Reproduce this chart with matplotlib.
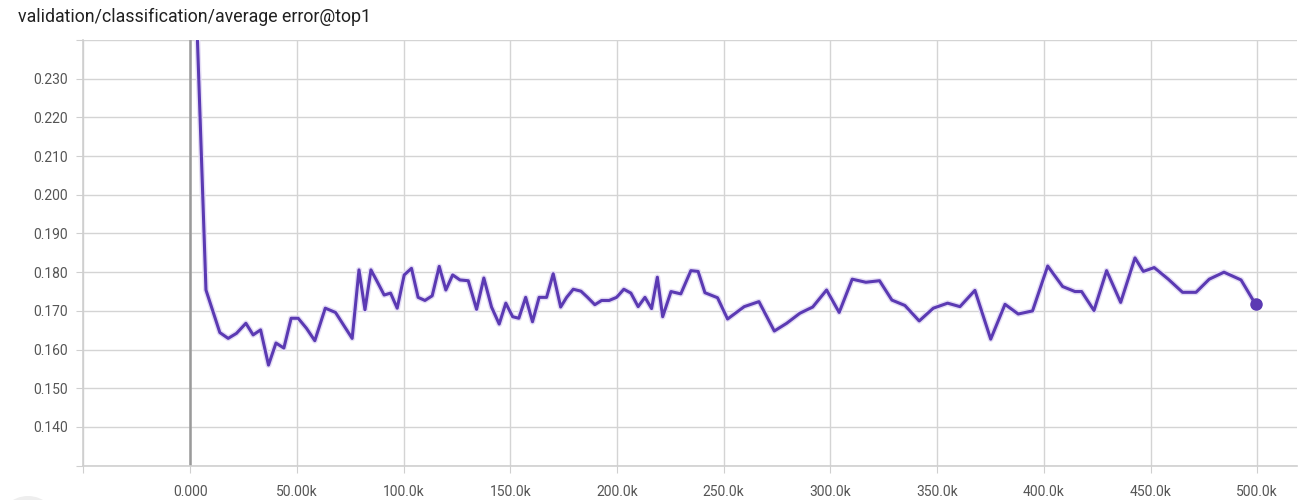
import numpy as np
import matplotlib
matplotlib.use('Agg')
import matplotlib.pyplot as plt
from matplotlib.patches import Circle

# data (step, smoothed error)
steps = [1.0, 7.4, 13.9, 17.8, 21.7, 26.1, 29.5, 33.0, 36.7, 40.2, 43.9,
         47.3, 50.6, 54.5, 58.4, 63.3, 68.1, 72.5, 75.9, 79.1, 81.9,
         84.7, 87.6, 90.9, 93.9, 97.0, 100.3, 103.7, 106.8, 110.0, 113.4,
         116.7, 119.8, 123.0, 126.4, 130.3, 134.2, 137.6, 141.2, 144.8, 147.9,
         151.1, 154.0, 157.2, 160.4, 163.5, 167.0, 170.1, 173.6, 176.4, 179.5,
         183.1, 186.2, 189.6, 192.8, 196.3, 199.8, 203.2, 206.5, 209.9, 213.1,
         216.2, 218.9, 221.4, 225.3, 229.9, 234.6, 238.0, 241.2, 247.1, 251.8,
         259.6, 266.5, 273.7, 279.5, 285.7, 291.7, 298.2, 304.1, 310.2, 316.6,
         323.0, 328.8, 334.9, 341.6, 348.2, 354.9, 360.7, 367.7, 375.1, 381.8,
         388.0, 394.7, 401.8, 408.8, 414.6, 417.7, 423.5, 429.4, 436.0, 442.7,
         446.6, 451.7, 458.3, 465.0, 471.3, 477.5, 484.4, 492.4, 499.2]
error = [0.2789, 0.1754, 0.1644, 0.1629, 0.1642, 0.1668, 0.1638, 0.1651, 0.1560, 0.1617, 0.1604,
         0.1681, 0.1681, 0.1655, 0.1623, 0.1707, 0.1696, 0.1658, 0.1629, 0.1806, 0.1703,
         0.1806, 0.1776, 0.1741, 0.1746, 0.1707, 0.1793, 0.1810, 0.1735, 0.1727, 0.1739,
         0.1815, 0.1754, 0.1793, 0.1780, 0.1778, 0.1704, 0.1785, 0.1710, 0.1666, 0.1720,
         0.1685, 0.1681, 0.1735, 0.1672, 0.1735, 0.1735, 0.1796, 0.1710, 0.1735, 0.1756,
         0.1751, 0.1735, 0.1716, 0.1727, 0.1727, 0.1735, 0.1756, 0.1746, 0.1711, 0.1735,
         0.1706, 0.1787, 0.1685, 0.1750, 0.1744, 0.1804, 0.1802, 0.1747, 0.1734, 0.1679,
         0.1711, 0.1724, 0.1648, 0.1668, 0.1694, 0.1710, 0.1754, 0.1696, 0.1782, 0.1774,
         0.1778, 0.1728, 0.1714, 0.1674, 0.1707, 0.1720, 0.1711, 0.1753, 0.1627, 0.1717,
         0.1692, 0.1700, 0.1816, 0.1763, 0.1750, 0.1750, 0.1701, 0.1804, 0.1722, 0.1837,
         0.1802, 0.1812, 0.1782, 0.1748, 0.1748, 0.1782, 0.1800, 0.1780, 0.1717]

x_ticks = [-50, 0, 50, 100, 150, 200, 250, 300, 350, 400, 450, 500]
x_labels = ['', '0.000', '50.00k', '100.0k', '150.0k', '200.0k', '250.0k',
            '300.0k', '350.0k', '400.0k', '450.0k', '500.0k']
y_ticks = [0.13, 0.14, 0.15, 0.16, 0.17, 0.18, 0.19, 0.20, 0.21, 0.22, 0.23, 0.24]
y_labels = ['', '0.140', '0.150', '0.160', '0.170', '0.180', '0.190',
            '0.200', '0.210', '0.220', '0.230', '']

plt.rcParams['font.family'] = ['Roboto', 'DejaVu Sans']

fig = plt.figure(figsize=(12.98, 5.0), dpi=100)
ax = fig.add_axes([0.0643, 0.0686, 0.9349, 0.8514])

x = np.array(steps) * 1000
ax.plot(x, error, color='#e4ddf5', lw=4.2, solid_joinstyle='round', zorder=3)
ax.plot(x, error, color='#5b3ab3', lw=2.2, solid_joinstyle='round', zorder=4)
ax.plot(x[-1], error[-1], 'o', color='#5b3ab3', markersize=8, zorder=5)

ax.axvline(0, color='#9a9a9a', lw=1.8, zorder=2)

ax.set_xlim(-50000, 518600)
ax.set_ylim(0.13, 0.24)
ax.set_xticks(np.array(x_ticks) * 1000)
ax.set_xticklabels(x_labels)
ax.set_yticks(y_ticks)
ax.set_yticklabels(y_labels)

ax.grid(True, color='#d4d4d4', lw=1.0, zorder=1)
for side in ['top', 'right']:
    ax.spines[side].set_visible(False)
for side in ['left', 'bottom']:
    ax.spines[side].set_color('#cfcfcf')
    ax.spines[side].set_linewidth(1.2)

ax.tick_params(axis='both', colors='#cfcfcf', labelcolor='#555555',
               labelsize=10, length=5)
ax.tick_params(axis='x', pad=9)
ax.tick_params(axis='y', pad=6)

fig.text(0.014, 0.966, 'validation/classification/average error@top1',
         fontsize=12.8, color='#212121', va='center', ha='left')

# round button peeking in at the bottom-left corner
fig.patches.append(Circle((28, -26), 30, transform=None,
                          facecolor='#eeeeee', edgecolor='none'))

fig.savefig('out.png', dpi=100)
